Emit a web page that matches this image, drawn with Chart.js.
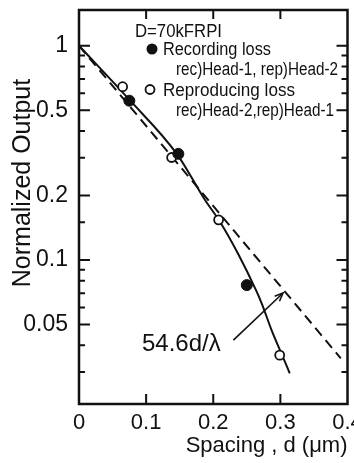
<!DOCTYPE html>
<html><head><meta charset="utf-8">
<script src="https://cdn.jsdelivr.net/npm/chart.js@4.4.1/dist/chart.umd.min.js"></script>
<style>html,body{margin:0;padding:0;background:#fff;overflow:hidden}#wrap{width:354px;height:463px;position:relative}</style>
</head><body><div id="wrap"><canvas id="c" width="354" height="463"></canvas></div>
<script>
// ---- data ----
const recSpacing = [0.075, 0.148, 0.250];
const recOutput  = [0.554, 0.313, 0.0764];
const repSpacing = [0.065, 0.138, 0.208, 0.299];
const repOutput  = [0.644, 0.301, 0.154, 0.036];
const curveSpacing = [0, 0.075, 0.146, 0.188, 0.210, 0.237, 0.264, 0.272, 0.287, 0.301, 0.314];
const curveOutput  = [1, 0.56, 0.312, 0.19, 0.151, 0.107, 0.072, 0.063, 0.047, 0.037, 0.0296];
const fitSpacing = [0, 0.39];
const fitOutput  = [1, 0.0348];
const xTicks = [0, 0.1, 0.2, 0.3, 0.4];
const yTickLabels = [1, 0.5, 0.2, 0.1, 0.05];
const yMinorTicks = [0.9, 0.8, 0.7, 0.6, 0.4, 0.3, 0.15, 0.09, 0.08, 0.07, 0.06, 0.04, 0.03];
const arrowFrom = {x: 0.230, y: 0.0423};
const arrowTo   = {x: 0.304, y: 0.0702};

const zip = (xs, ys) => xs.map((v, i) => ({x: v, y: ys[i]}));
const FONT = "'Liberation Sans', Arial, sans-serif";
const INK = '#111';
Chart.defaults.font.family = FONT;
Chart.defaults.color = INK;

const framePlugin = {
  id: 'frame',
  afterDatasetsDraw(chart) {
    const {ctx, chartArea: a, scales: {x, y}} = chart;
    ctx.save();
    ctx.strokeStyle = INK; ctx.fillStyle = INK;
    ctx.lineWidth = 2.5;
    ctx.strokeRect(a.left, a.top, a.right - a.left, a.bottom - a.top);
    ctx.lineWidth = 2;
    ctx.beginPath();
    yTickLabels.forEach(v => { const p = y.getPixelForValue(v);
      ctx.moveTo(a.left, p); ctx.lineTo(a.left + 11, p);
      ctx.moveTo(a.right, p); ctx.lineTo(a.right - 11, p); });
    yMinorTicks.forEach(v => { const p = y.getPixelForValue(v);
      ctx.moveTo(a.left, p); ctx.lineTo(a.left + 6, p);
      ctx.moveTo(a.right, p); ctx.lineTo(a.right - 6, p); });
    xTicks.filter(v => v > x.min && v < x.max).forEach(v => { const p = x.getPixelForValue(v);
      ctx.moveTo(p, a.bottom); ctx.lineTo(p, a.bottom - 10);
      ctx.moveTo(p, a.top); ctx.lineTo(p, a.top + 9); });
    ctx.stroke();

    // y axis title
    ctx.save();
    ctx.translate(23, 183); ctx.rotate(-Math.PI / 2);
    ctx.textAlign = 'center'; ctx.textBaseline = 'middle';
    ctx.font = `25px ${FONT}`;
    ctx.fillText('Normalized Output', 0, 0);
    ctx.restore();

    // legend block
    ctx.textAlign = 'left'; ctx.textBaseline = 'alphabetic';
    ctx.font = `18px ${FONT}`;
    ctx.fillText('D=70kFRPI', 135, 37, 87);
    ctx.fillText('Recording loss', 163, 55, 108);
    ctx.fillText('rec)Head-1, rep)Head-2', 176, 75, 162);
    ctx.fillText('Reproducing loss', 163, 96, 132);
    ctx.fillText('rec)Head-2,rep)Head-1', 176, 116, 158);
    ctx.beginPath(); ctx.arc(152, 49, 5.5, 0, Math.PI * 2); ctx.fill();
    ctx.beginPath(); ctx.lineWidth = 1.8; ctx.arc(150, 89.5, 4.5, 0, Math.PI * 2); ctx.stroke();

    // annotation with arrow
    ctx.font = `24px ${FONT}`;
    ctx.fillText('54.6d/λ', 142, 351, 83);
    const x1 = x.getPixelForValue(arrowFrom.x), y1 = y.getPixelForValue(arrowFrom.y);
    const x2 = x.getPixelForValue(arrowTo.x),   y2 = y.getPixelForValue(arrowTo.y);
    ctx.lineWidth = 1.6;
    ctx.beginPath(); ctx.moveTo(x1, y1); ctx.lineTo(x2, y2); ctx.stroke();
    const ang = Math.atan2(y2 - y1, x2 - x1), L = 9;
    ctx.beginPath();
    ctx.moveTo(x2 - L * Math.cos(ang - 0.4), y2 - L * Math.sin(ang - 0.4));
    ctx.lineTo(x2, y2);
    ctx.lineTo(x2 - L * Math.cos(ang + 0.4), y2 - L * Math.sin(ang + 0.4));
    ctx.stroke();
    ctx.restore();
  }
};

new Chart(document.getElementById('c'), {
  type: 'scatter',
  data: {datasets: [
    {label: 'Recording loss', data: zip(recSpacing, recOutput), pointRadius: 5.5,
     backgroundColor: INK, borderColor: INK, borderWidth: 1},
    {label: 'Reproducing loss', data: zip(repSpacing, repOutput), pointRadius: 4.5,
     backgroundColor: '#fff', borderColor: INK, borderWidth: 1.8},
    {label: 'Fitted curve', data: zip(curveSpacing, curveOutput), showLine: true, pointRadius: 0,
     borderColor: INK, borderWidth: 2, cubicInterpolationMode: 'monotone', fill: false},
    {label: '54.6d/λ', data: zip(fitSpacing, fitOutput), showLine: true, pointRadius: 0,
     borderColor: INK, borderWidth: 2, borderDash: [10, 6], fill: false}
  ]},
  options: {
    responsive: false, animation: false, devicePixelRatio: 1,
    layout: {padding: {top: 10, right: 4, left: 0, bottom: 0}},
    plugins: {legend: {display: false}, tooltip: {enabled: false}},
    scales: {
      x: {type: 'linear', min: 0, max: 0.4,
          afterBuildTicks: s => { s.ticks = xTicks.map(v => ({value: v})); },
          ticks: {font: {size: 22}, padding: 6, color: INK, maxRotation: 0, autoSkip: false,
                  callback: v => String(v)},
          grid: {display: false, drawTicks: false}, border: {display: false},
          title: {display: true, text: 'Spacing , d (μm)', align: 'end', font: {size: 22},
                  padding: {top: 0, bottom: 4}, color: INK},
          afterFit: s => { s.height = 59; s.paddingLeft = 0; s.paddingRight = 0; }},
      y: {type: 'logarithmic', min: 0.0213, max: 1.468,
          afterBuildTicks: s => { s.ticks = yTickLabels.map(v => ({value: v})); },
          ticks: {font: {size: 23}, padding: 11, color: INK, autoSkip: false,
                  callback: v => String(v)},
          grid: {display: false, drawTicks: false}, border: {display: false},
          afterFit: s => { s.width = 79; s.paddingTop = 0; s.paddingBottom = 0; }}
    }
  },
  plugins: [framePlugin]
});
</script></body></html>
